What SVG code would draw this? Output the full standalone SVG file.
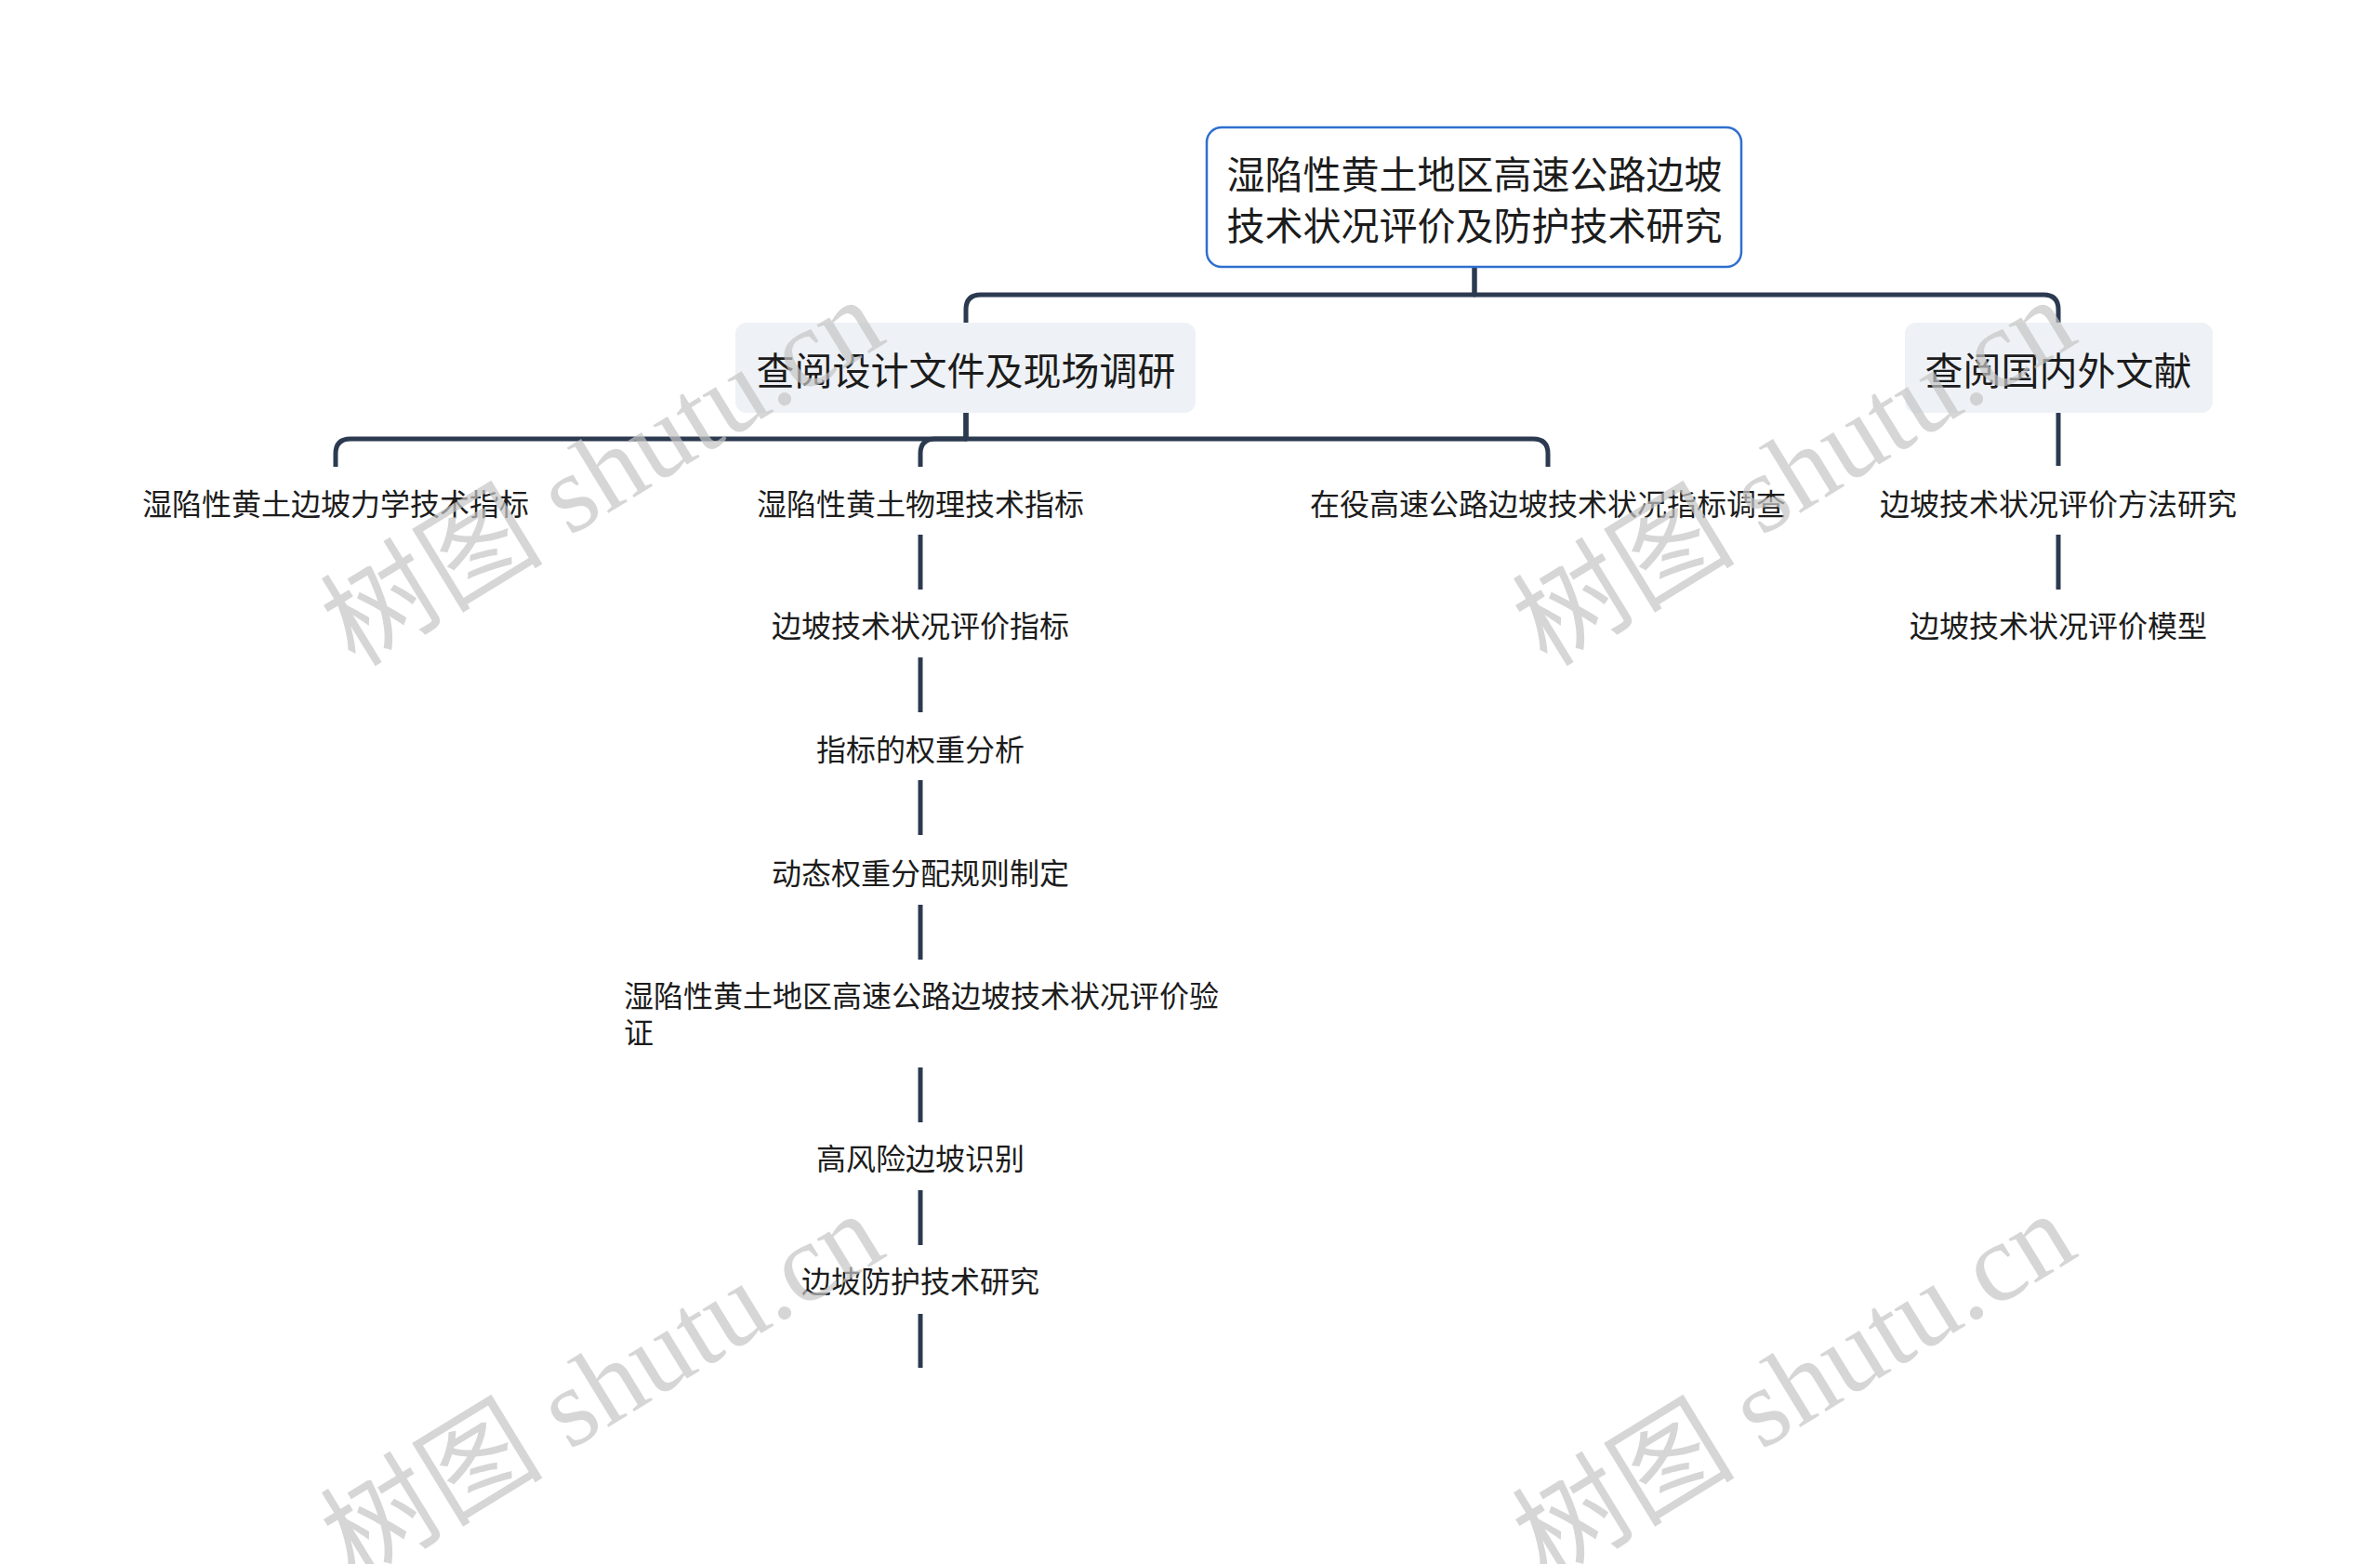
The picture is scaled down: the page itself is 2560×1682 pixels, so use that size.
<svg xmlns="http://www.w3.org/2000/svg" width="2560" height="1682" viewBox="0 0 2560 1682">
<style>
.t{font-family:"Noto Sans CJK SC","Noto Sans",sans-serif;fill:#1c1c1c;text-anchor:middle;dominant-baseline:central}
.big{font-size:41px}
.leaf{font-size:32px}
.ln{fill:none;stroke:#2c3a50;stroke-width:5;stroke-linecap:butt;stroke-linejoin:round}
.sub{fill:#eef1f5}
.wm{font-family:"Liberation Serif","Noto Sans CJK SC",serif;font-size:120px;fill:#c4c4c4;fill-opacity:0.7;text-anchor:middle;dominant-baseline:central}
</style>
<rect width="2560" height="1682" fill="#ffffff"/>
<g id="connectors">
<path class="ln" d="M1586,287 V317 H1055 Q1039,317 1039,333 V347"/>
<path class="ln" d="M1586,287 V317 H2198 Q2214,317 2214,333 V347"/>
<path class="ln" d="M1039,444 V472 H377 Q361,472 361,488 V502"/>
<path class="ln" d="M1039,444 V472 H1006 Q990,472 990,488 V502"/>
<path class="ln" d="M1039,444 V472 H1649 Q1665,472 1665,488 V502"/>
<path class="ln" d="M2214,444 V501"/>
<path class="ln" d="M2214,575 V634"/>
<path class="ln" d="M990,575 V634"/>
<path class="ln" d="M990,707 V766"/>
<path class="ln" d="M990,839 V898"/>
<path class="ln" d="M990,973 V1032"/>
<path class="ln" d="M990,1148 V1207"/>
<path class="ln" d="M990,1280 V1339"/>
<path class="ln" d="M990,1413 V1471"/>
</g>
<g id="root">
<rect x="1298" y="137" width="575" height="150" rx="16" fill="#ffffff" stroke="#2f6fce" stroke-width="2.5"/>
<text class="t big" x="1586" y="185">湿陷性黄土地区高速公路边坡</text>
<text class="t big" x="1586" y="240">技术状况评价及防护技术研究</text>
</g>
<g id="n1">
<rect class="sub" x="791" y="347" width="495" height="97" rx="12"/>
<text class="t big" x="1039" y="396">查阅设计文件及现场调研</text>
</g>
<g id="n2">
<rect class="sub" x="2049" y="347" width="331" height="97" rx="12"/>
<text class="t big" x="2214" y="396">查阅国内外文献</text>
</g>
<g id="n1a"><text class="t leaf" x="361" y="540">湿陷性黄土边坡力学技术指标</text></g>
<g id="n1b"><text class="t leaf" x="990" y="540">湿陷性黄土物理技术指标</text></g>
<g id="n1c"><text class="t leaf" x="1665" y="540">在役高速公路边坡技术状况指标调查</text></g>
<g id="n1b1"><text class="t leaf" x="990" y="671">边坡技术状况评价指标</text></g>
<g id="n1b2"><text class="t leaf" x="990" y="804">指标的权重分析</text></g>
<g id="n1b3"><text class="t leaf" x="990" y="937">动态权重分配规则制定</text></g>
<g id="n1b4">
<text class="t leaf" x="671" y="1069" style="text-anchor:start">湿陷性黄土地区高速公路边坡技术状况评价验</text>
<text class="t leaf" x="671" y="1108" style="text-anchor:start">证</text>
</g>
<g id="n1b5"><text class="t leaf" x="990" y="1244">高风险边坡识别</text></g>
<g id="n1b6"><text class="t leaf" x="990" y="1376">边坡防护技术研究</text></g>
<g id="n2a"><text class="t leaf" x="2214" y="540">边坡技术状况评价方法研究</text></g>
<g id="n2b"><text class="t leaf" x="2214" y="671">边坡技术状况评价模型</text></g>
<g id="watermarks">
<text class="wm" transform="translate(648,508) rotate(-31.5)">树图 shutu.cn</text>
<text class="wm" transform="translate(1930,508) rotate(-31.5)">树图 shutu.cn</text>
<text class="wm" transform="translate(648,1491) rotate(-31.5)">树图 shutu.cn</text>
<text class="wm" transform="translate(1930,1491) rotate(-31.5)">树图 shutu.cn</text>
</g>
</svg>
